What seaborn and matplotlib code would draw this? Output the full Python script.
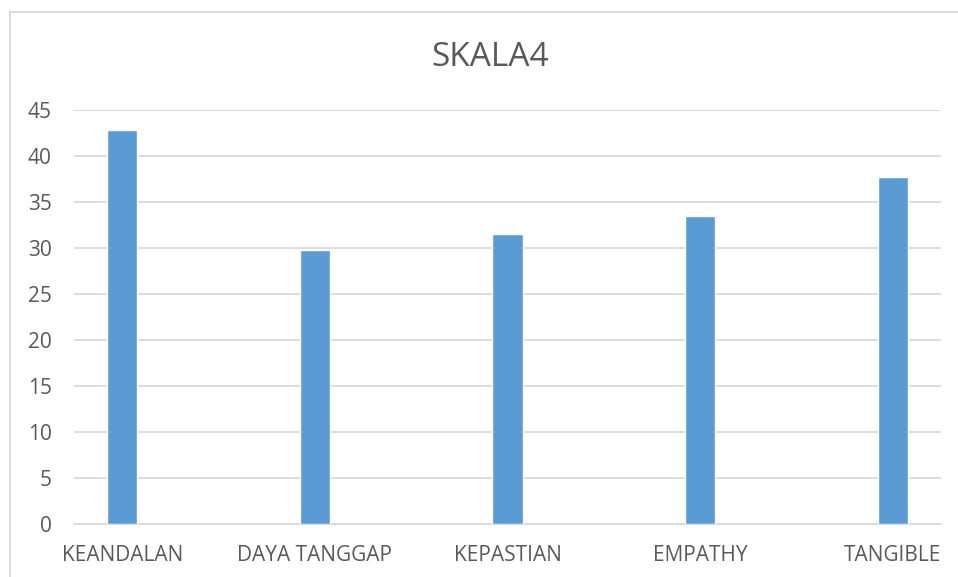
import matplotlib
matplotlib.use("Agg")
import matplotlib.pyplot as plt
import seaborn as sns
import pandas as pd
from matplotlib.lines import Line2D

# --- Chart data ---
categories = ["KEANDALAN", "DAYA TANGGAP", "KEPASTIAN", "EMPATHY", "TANGIBLE"]
values = [42.8, 29.8, 31.5, 33.5, 37.7]
y_ticks = [0, 5, 10, 15, 20, 25, 30, 35, 40, 45]
title = "SKALA4"

BAR_COLOR = "#5B9BD5"
TEXT_COLOR = "#595959"
GRID_COLOR = "#D9D9D9"

df = pd.DataFrame({"Category": categories, "Value": values})

sns.set_style("white")
plt.rcParams["font.family"] = ["Open Sans", "DejaVu Sans"]

fig = plt.figure(figsize=(9.58, 5.77), dpi=100)
ax = fig.add_axes([0.0772, 0.0919, 0.9051, 0.7175])

sns.barplot(data=df, x="Category", y="Value", color=BAR_COLOR,
            width=0.156, saturation=1, ax=ax, zorder=3)

ax.set_xlim(-0.25, 4.25)
ax.set_ylim(0, 45)
ax.set_yticks(y_ticks)
ax.yaxis.grid(True, color=GRID_COLOR, linewidth=1.3, zorder=0)
ax.xaxis.grid(False)
for side in ["top", "right", "left"]:
    ax.spines[side].set_visible(False)
ax.spines["bottom"].set_color(GRID_COLOR)
ax.spines["bottom"].set_linewidth(1.3)

ax.set_xlabel("")
ax.set_ylabel("")
ax.tick_params(axis="both", length=0, labelsize=15, colors=TEXT_COLOR)
ax.tick_params(axis="y", pad=16)
ax.tick_params(axis="x", pad=15)

fig.text(0.512, 0.90, title, ha="center", va="center",
         fontsize=24, color=TEXT_COLOR)

# outer chart frame (only top and left edges are visible in the crop)
fig.add_artist(Line2D([0.0105, 1.0], [0.979, 0.979], transform=fig.transFigure,
                      color=GRID_COLOR, linewidth=1.3))
fig.add_artist(Line2D([0.0105, 0.0105], [0.0, 0.979], transform=fig.transFigure,
                      color=GRID_COLOR, linewidth=1.3))

fig.savefig("out.png", dpi=100, facecolor="white")
